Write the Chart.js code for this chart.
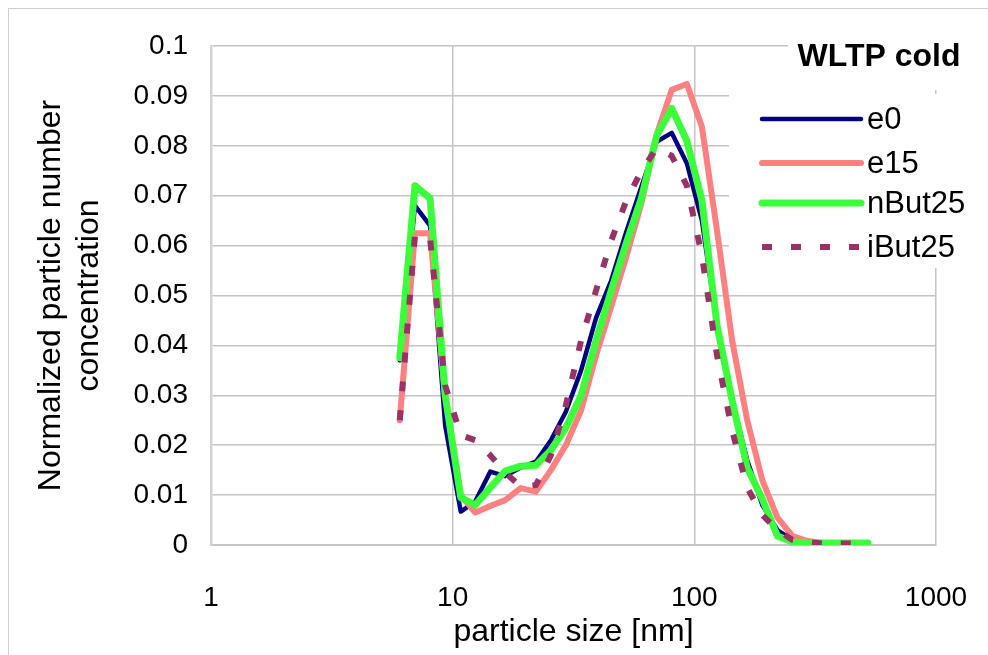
<!DOCTYPE html>
<html>
<head>
<meta charset="utf-8">
<script src="https://cdn.jsdelivr.net/npm/chart.js@4.4.1/dist/chart.umd.min.js"></script>
<style>
html,body{margin:0;padding:0;background:#fff;}
#wrap{width:988px;height:655px;position:relative;}
</style>
</head>
<body>
<div id="wrap"><canvas id="c" width="988" height="655"></canvas></div>
<script>
// particle size channels [nm]
const sizes = [6.04,6.98,8.06,9.31,10.8,12.4,14.3,16.5,19.1,22.1,25.5,29.4,34.0,39.2,45.3,52.3,60.4,69.8,80.6,93.1,107.5,124.1,143.3,165.5,191.1,220.7,254.8,294.3,339.8,392.4,453.2,523.3];
const e0 = [0.037,0.068,0.064,0.024,0.0067,0.0087,0.0147,0.0138,0.0155,0.0167,0.021,0.0267,0.035,0.0455,0.053,0.0628,0.0718,0.0808,0.0826,0.0765,0.065,0.044,0.029,0.017,0.008,0.003,0.001,0.0005,0.0003,0.0003,0.0003,0.0003];
const e15 = [0.025,0.0625,0.0625,0.030,0.010,0.0065,0.0078,0.009,0.0114,0.0107,0.015,0.020,0.027,0.038,0.0478,0.0578,0.0685,0.0822,0.0912,0.0924,0.0838,0.063,0.041,0.025,0.013,0.0055,0.0018,0.0008,0.0004,0.0003,0.0003,0.0003];
const nBut25 = [0.0375,0.072,0.0695,0.030,0.0095,0.008,0.0115,0.0148,0.0158,0.016,0.019,0.0235,0.030,0.041,0.051,0.0605,0.0695,0.082,0.0875,0.081,0.069,0.044,0.029,0.0155,0.0092,0.0018,0.0006,0.0004,0.0004,0.0004,0.0004,0.0004];
const iBut25 = [0.025,0.062,0.0615,0.032,0.022,0.021,0.018,0.0145,0.0117,0.012,0.018,0.028,0.041,0.051,0.061,0.069,0.075,0.0795,0.078,0.072,0.058,0.038,0.023,0.0115,0.006,0.003,0.001,0.0006,0.0003,0.0003,0.0003,0.0003];
const seriesNames = ['e0','e15','nBut25','iBut25'];
const xTicks = [1,10,100,1000];
const yMin = 0, yMax = 0.1, yStep = 0.01;
const chartTitle = 'WLTP cold';
const xTitle = 'particle size [nm]';
const yTitle = ['Normalized particle number','concentration'];

const FONT = "'Liberation Sans', Arial, sans-serif";
const styles = [
  {color:'#000080', width:4.5, dash:[], order:3},
  {color:'#ff8080', width:6, dash:[], order:2},
  {color:'#3cff3c', width:7, dash:[], order:1},
  {color:'#993366', width:6, dash:[10,19], order:0}
];
const allSeries = [e0, e15, nBut25, iBut25];

const datasets = allSeries.map((arr, k) => ({
  label: seriesNames[k],
  data: sizes.map((x, i) => ({x: x, y: arr[i]})),
  borderColor: styles[k].color,
  backgroundColor: styles[k].color,
  borderWidth: styles[k].width,
  borderDash: styles[k].dash,
  borderJoinStyle: 'round',
  borderCapStyle: styles[k].dash.length ? 'butt' : 'round',
  order: styles[k].order,
  pointRadius: 0,
  fill: false,
  tension: 0
}));

const decor = {
  id: 'decor',
  afterDatasetsDraw(chart) {
    const ctx = chart.ctx;
    ctx.save();
    // outer frame
    ctx.strokeStyle = '#d0d0d0';
    ctx.lineWidth = 1;
    ctx.strokeRect(8.5, 8.5, 1000, 700);
    // title box
    ctx.fillStyle = '#fff';
    ctx.fillRect(788, 20, 200, 70);
    ctx.fillStyle = '#000';
    ctx.font = "bold 32px " + FONT;
    ctx.textAlign = 'center';
    ctx.textBaseline = 'middle';
    ctx.fillText(chartTitle, 879, 57);
    // legend box
    ctx.fillStyle = '#fff';
    ctx.fillRect(729, 94, 259, 174);
    const rows = [119, 163, 203, 247];
    [0,1,2,3].forEach((k, r) => {
      const y = rows[r];
      ctx.beginPath();
      ctx.setLineDash(styles[k].dash);
      ctx.lineWidth = styles[k].width;
      ctx.strokeStyle = styles[k].color;
      ctx.lineCap = styles[k].dash.length ? 'butt' : 'round';
      ctx.moveTo(762, y);
      ctx.lineTo(861, y);
      ctx.stroke();
      ctx.setLineDash([]);
      ctx.fillStyle = '#000';
      ctx.font = "31px " + FONT;
      ctx.textAlign = 'left';
      ctx.textBaseline = 'middle';
      ctx.fillText(seriesNames[k], 867, y + 1);
    });
    ctx.restore();
  }
};

new Chart(document.getElementById('c').getContext('2d'), {
  type: 'line',
  data: { datasets: datasets },
  options: {
    responsive: false,
    animation: false,
    layout: { padding: { left: 0, top: 46, right: 52, bottom: 0 } },
    plugins: { legend: { display: false }, tooltip: { enabled: false }, title: { display: false } },
    scales: {
      x: {
        type: 'logarithmic',
        min: 1, max: 1000,
        afterBuildTicks: (s) => { s.ticks = xTicks.map(v => ({value: v})); },
        afterFit: (s) => { s.height = 110; s.paddingLeft = 0; s.paddingRight = 0; },
        ticks: {
          callback: (v) => String(v),
          font: { family: FONT, size: 28 },
          color: '#000',
          padding: 36,
          maxRotation: 0,
          autoSkip: false
        },
        grid: { color: '#c4c4c4', lineWidth: 1.5, drawTicks: false },
        border: { display: true, color: '#c4c4c4', width: 2 },
        title: { display: true, text: xTitle, font: { family: FONT, size: 32 }, color: '#000', padding: { top: 0, bottom: 4 } }
      },
      y: {
        min: yMin, max: yMax,
        afterFit: (s) => { s.width = 211; s.paddingTop = 0; s.paddingBottom = 0; },
        ticks: {
          stepSize: yStep,
          callback: (v) => String(+Number(v).toFixed(2)),
          font: { family: FONT, size: 28 },
          color: '#000',
          padding: 23
        },
        grid: { color: '#c4c4c4', lineWidth: 1.5, drawTicks: false },
        border: { display: true, color: '#d4d4d4', width: 2.5 },
        title: { display: true, text: yTitle, font: { family: FONT, size: 32 }, color: '#000', padding: { top: 32, bottom: 0 } }
      }
    }
  },
  plugins: [decor]
});
</script>
</body>
</html>
